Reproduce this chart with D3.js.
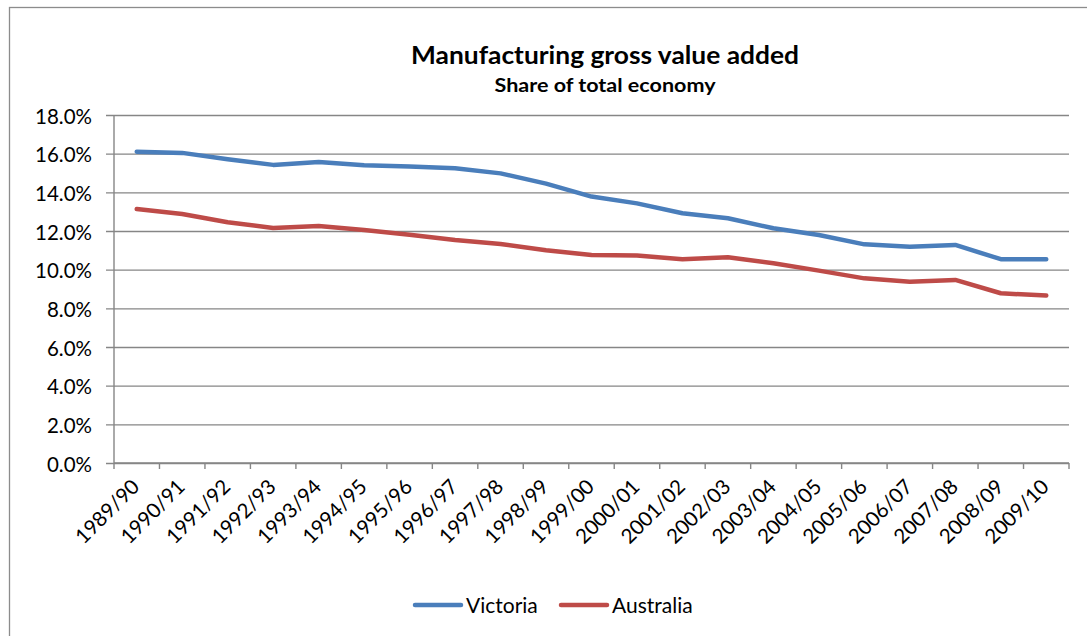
<!DOCTYPE html>
<html>
<head>
<meta charset="utf-8">
<script src="https://cdn.jsdelivr.net/npm/d3@7"></script>
<style>
  html, body { margin: 0; padding: 0; background: #fff; }
  svg { display: block; }
  text { font-family: Lato, "Open Sans", sans-serif; fill: #000; }
</style>
</head>
<body>
<svg id="chart" width="1087" height="636"></svg>
<script>
// Financial years on the category axis
const years = ["1989/90","1990/91","1991/92","1992/93","1993/94","1994/95","1995/96",
  "1996/97","1997/98","1998/99","1999/00","2000/01","2001/02","2002/03","2003/04",
  "2004/05","2005/06","2006/07","2007/08","2008/09","2009/10"];

// Manufacturing share of gross value added, per cent
const victoria = [16.1, 16.04, 15.71, 15.42, 15.57, 15.40, 15.33, 15.24, 14.98, 14.45,
  13.78, 13.43, 12.92, 12.66, 12.14, 11.79, 11.31, 11.19, 11.28, 10.54, 10.54];
const australia = [13.14, 12.88, 12.45, 12.16, 12.26, 12.05, 11.81, 11.54, 11.33, 11.0,
  10.76, 10.73, 10.54, 10.64, 10.33, 9.95, 9.55, 9.38, 9.47, 8.78, 8.66];

const yTicks = [0, 2, 4, 6, 8, 10, 12, 14, 16, 18];

const seriesNames = ["Victoria", "Australia"];
const seriesColors = ["#4a7ebb", "#be4b48"];
const series = [victoria, australia];

const svg = d3.select("#chart");
const gridColor = "#868686";

// chart area frame
svg.append("rect")
  .attr("x", 9.5).attr("y", 7.5)
  .attr("width", 1200).attr("height", 800)
  .attr("fill", "none").attr("stroke", "#8c8c8c").attr("stroke-width", 1.3);

const plot = { left: 114, right: 1069, top: 115, bottom: 463 };

const x = d3.scaleBand().domain(years).range([plot.left, plot.right]).paddingInner(0).paddingOuter(0);
const y = d3.scaleLinear().domain([0, 18]).range([plot.bottom, plot.top]);

// horizontal gridlines with short ticks left of the axis
const yAxis = d3.axisLeft(y)
  .tickValues(yTicks)
  .tickSize(-(plot.right - plot.left))
  .tickSizeOuter(0)
  .tickPadding(22)
  .tickFormat(d => d3.format(".1f")(d) + "%");

const gy = svg.append("g").attr("transform", `translate(${plot.left},0)`).call(yAxis);
gy.select(".domain").remove();
gy.selectAll(".tick line")
  .attr("x1", -8)
  .attr("stroke", gridColor).attr("stroke-width", 1.4);
gy.selectAll(".tick text")
  .attr("font-size", 20.5)
  .attr("dy", "0.4em")
  .style("font-family", "Lato, sans-serif");

// value axis line
svg.append("line")
  .attr("x1", plot.left).attr("x2", plot.left)
  .attr("y1", plot.top).attr("y2", plot.bottom + 6)
  .attr("stroke", gridColor).attr("stroke-width", 1.4);

// category axis line and boundary ticks
svg.append("line")
  .attr("x1", plot.left).attr("x2", plot.right)
  .attr("y1", plot.bottom).attr("y2", plot.bottom)
  .attr("stroke", gridColor).attr("stroke-width", 1.4);

const boundaries = years.map(d => x(d)).concat([x.range()[1]]).slice(1);
svg.append("g").selectAll("line").data(boundaries).join("line")
  .attr("x1", d => d).attr("x2", d => d)
  .attr("y1", plot.bottom).attr("y2", plot.bottom + 6)
  .attr("stroke", gridColor).attr("stroke-width", 1.4);

// rotated category labels
const xAxis = d3.axisBottom(x).tickSize(0).tickPadding(0);
const gx = svg.append("g").attr("transform", `translate(0,${plot.bottom})`).call(xAxis);
gx.select(".domain").remove();
gx.selectAll(".tick text")
  .attr("font-size", 20.5)
  .style("font-family", "Lato, sans-serif")
  .attr("text-anchor", "end")
  .attr("dx", 0).attr("dy", 0)
  .attr("transform", "translate(4,25) rotate(-45)");

// series lines
const line = d3.line()
  .x((d, i) => x(years[i]) + x.bandwidth() / 2)
  .y(d => y(d));

svg.append("g").selectAll("path").data(series).join("path")
  .attr("d", d => line(d))
  .attr("fill", "none")
  .attr("stroke", (d, i) => seriesColors[i])
  .attr("stroke-width", 4.5)
  .attr("stroke-linejoin", "round")
  .attr("stroke-linecap", "round");

// titles
svg.append("text")
  .attr("x", 605).attr("y", 64)
  .attr("text-anchor", "middle")
  .attr("font-size", 25).attr("font-weight", 700)
  .attr("textLength", 388).attr("lengthAdjust", "spacingAndGlyphs")
  .text("Manufacturing gross value added");
svg.append("text")
  .attr("x", 605).attr("y", 92)
  .attr("text-anchor", "middle")
  .attr("font-size", 19).attr("font-weight", 700)
  .attr("textLength", 221).attr("lengthAdjust", "spacingAndGlyphs")
  .text("Share of total economy");

// legend
const legendItems = [
  { name: seriesNames[0], color: seriesColors[0], x: 415 },
  { name: seriesNames[1], color: seriesColors[1], x: 561 }
];
const lg = svg.append("g").selectAll("g").data(legendItems).join("g")
  .attr("transform", d => `translate(${d.x},605)`);
lg.append("line")
  .attr("x1", 0).attr("x2", 46).attr("y1", 0).attr("y2", 0)
  .attr("stroke", d => d.color).attr("stroke-width", 4.5).attr("stroke-linecap", "round");
lg.append("text")
  .attr("x", 51).attr("y", 0).attr("dy", "0.36em")
  .attr("font-size", 21)
  .text(d => d.name);
</script>
</body>
</html>
